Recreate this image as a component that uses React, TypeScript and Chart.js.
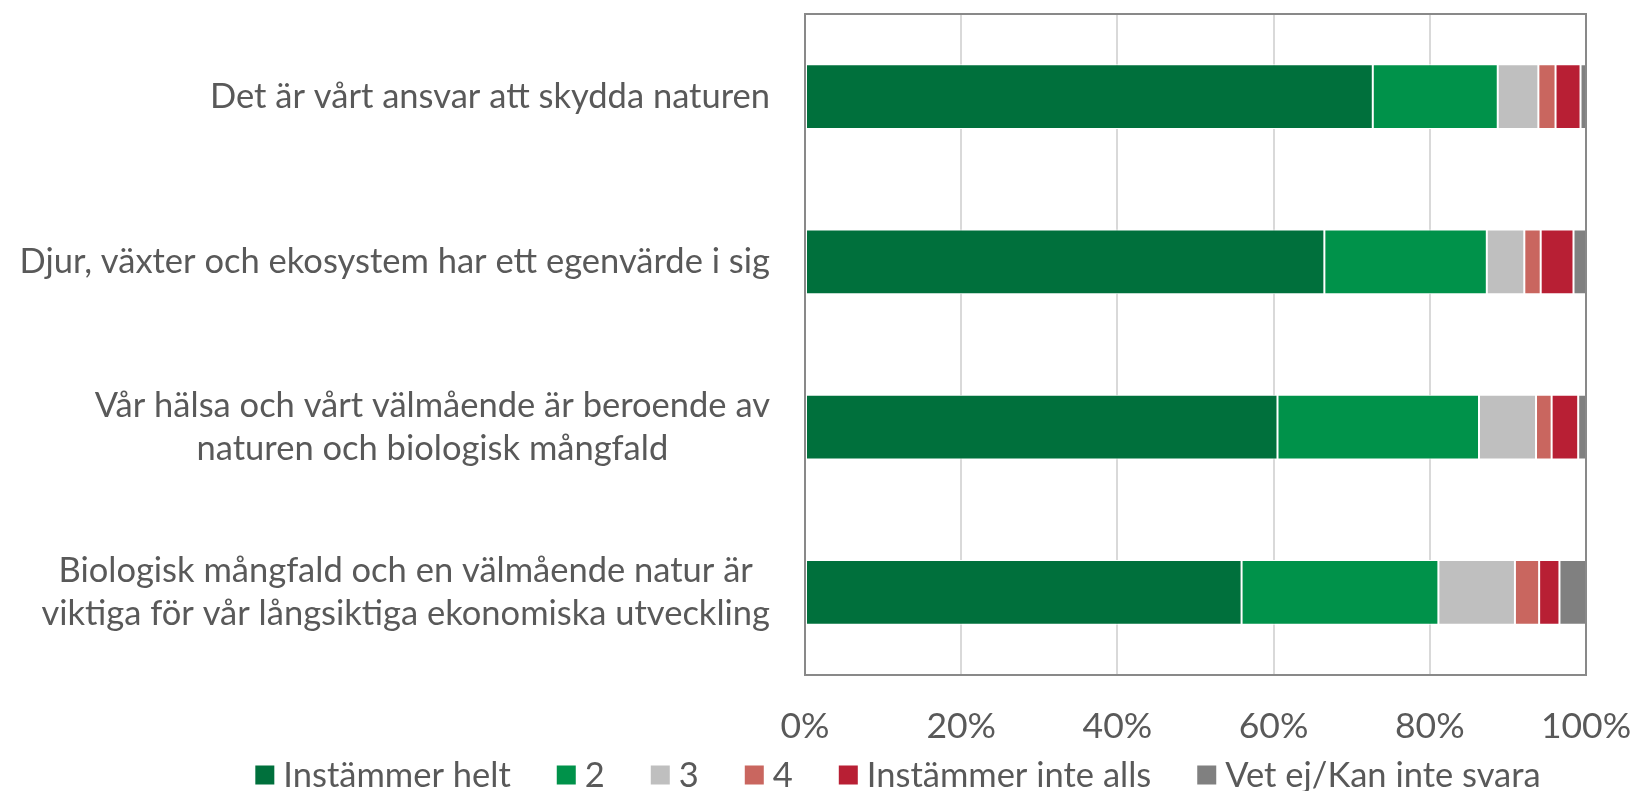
import React, { useEffect, useRef } from "react";
import { Chart, registerables } from "chart.js";

Chart.register(...registerables);

// ---- Data ----
const categories: string[][] = [
  ["Det är vårt ansvar att skydda naturen"],
  ["Djur, växter och ekosystem har ett egenvärde i sig"],
  ["Vår hälsa och vårt välmående är beroende av", "naturen och biologisk mångfald"],
  ["Biologisk mångfald och en välmående natur är", "viktiga för vår långsiktiga ekonomiska utveckling"],
];
const seriesNames = ["Instämmer helt", "2", "3", "4", "Instämmer inte alls", "Vet ej/Kan inte svara"];
const seriesColors = ["#00703C", "#00924A", "#BFBFBF", "#C9665F", "#B81F34", "#808080"];

const instammerHelt = [72.7, 66.5, 60.5, 55.9];
const svar2 = [16.0, 20.8, 25.8, 25.2];
const svar3 = [5.2, 4.8, 7.3, 9.8];
const svar4 = [2.2, 2.1, 2.0, 3.1];
const instammerInteAlls = [3.2, 4.2, 3.4, 2.6];
const vetEj = [0.7, 1.6, 1.0, 3.4];

const xTickValues = [0, 20, 40, 60, 80, 100];

const seriesValues = [instammerHelt, svar2, svar3, svar4, instammerInteAlls, vetEj];

// ---- Styles ----
const FONT = "Lato";
const FONT_SIZE = 34.5;
const TICK_FONT_SIZE = 35.5;
const TEXT_COLOR = "#595959";
const BORDER_COLOR = "#898989";
const GRID_COLOR = "#D9D9D9";

const frameBorderPlugin = {
  id: "frameBorder",
  afterDatasetsDraw(chart: any) {
    const { ctx, chartArea } = chart;
    ctx.save();
    ctx.strokeStyle = BORDER_COLOR;
    ctx.lineWidth = 2;
    ctx.strokeRect(chartArea.left, chartArea.top, chartArea.right - chartArea.left, chartArea.bottom - chartArea.top);
    ctx.restore();
  },
};

const categoryLabelPlugin = {
  id: "categoryLabels",
  afterDraw(chart: any) {
    const { ctx, chartArea } = chart;
    const yScale = chart.scales.y;
    const rightEdge = chartArea.left - 35;
    const lineH = 43;
    ctx.save();
    ctx.font = `${FONT_SIZE}px ${FONT}`;
    ctx.fillStyle = TEXT_COLOR;
    ctx.textBaseline = "middle";
    ctx.textAlign = "center";
    categories.forEach((lines, i) => {
      const yc = yScale.getPixelForTick(i);
      const widest = Math.max(...lines.map((l) => ctx.measureText(l).width));
      const cx = rightEdge - widest / 2;
      const y0 = yc - ((lines.length - 1) * lineH) / 2;
      lines.forEach((l, j) => ctx.fillText(l, cx, y0 + j * lineH));
    });
    ctx.restore();
  },
};

const legendPlugin = {
  id: "customLegend",
  afterDraw(chart: any) {
    const { ctx } = chart;
    const box = 19;
    const textGap = 9;
    const itemGap = 46;
    const centerX = 898;
    const cy = 775;
    ctx.save();
    ctx.font = `${FONT_SIZE}px ${FONT}`;
    ctx.textBaseline = "middle";
    ctx.textAlign = "left";
    const widths = seriesNames.map((n) => box + textGap + ctx.measureText(n).width);
    const total = widths.reduce((a, b) => a + b, 0) + itemGap * (widths.length - 1);
    let x = centerX - total / 2;
    seriesNames.forEach((n, i) => {
      ctx.fillStyle = seriesColors[i];
      ctx.fillRect(x, cy - box / 2, box, box);
      ctx.fillStyle = TEXT_COLOR;
      ctx.fillText(n, x + box + textGap, cy + 1);
      x += widths[i] + itemGap;
    });
    ctx.restore();
  },
};

export default function App() {
  const canvasRef = useRef<HTMLCanvasElement | null>(null);

  useEffect(() => {
    if (!canvasRef.current) return;
    const chart = new Chart(canvasRef.current, {
      type: "bar",
      data: {
        labels: categories.map((c) => c.join(" ")),
        datasets: seriesNames.map((name, i) => ({
          label: name,
          data: seriesValues[i],
          backgroundColor: seriesColors[i],
          borderColor: "#FFFFFF",
          borderWidth: 1,
          borderSkipped: false,
          barPercentage: 0.393,
          categoryPercentage: 1,
        })),
      },
      options: {
        indexAxis: "y",
        animation: false,
        responsive: true,
        maintainAspectRatio: false,
        layout: { padding: { top: 14, right: 45, left: 0, bottom: 46 } },
        plugins: {
          legend: { display: false },
          tooltip: { enabled: false },
        },
        scales: {
          x: {
            stacked: true,
            min: 0,
            max: 100,
            afterBuildTicks: (scale: any) => {
              scale.ticks = xTickValues.map((v) => ({ value: v }));
            },
            afterFit: (scale: any) => {
              scale.height = 70;
              scale.paddingLeft = 0;
              scale.paddingRight = 0;
            },
            ticks: {
              padding: 30,
              color: TEXT_COLOR,
              font: { family: FONT, size: TICK_FONT_SIZE },
              callback: (v: any) => `${v}%`,
              maxRotation: 0,
            },
            grid: { color: GRID_COLOR, lineWidth: 2, drawTicks: false },
            border: { display: false },
          },
          y: {
            stacked: true,
            afterFit: (scale: any) => {
              scale.width = 805;
              scale.paddingTop = 0;
              scale.paddingBottom = 0;
            },
            ticks: { display: false },
            grid: { display: false, drawTicks: false },
            border: { display: false },
          },
        },
      },
      plugins: [frameBorderPlugin, categoryLabelPlugin, legendPlugin],
    });
    return () => chart.destroy();
  }, []);

  return (
    <div style={{ position: "fixed", left: 0, top: 0, width: 1631, height: 791, background: "#FFFFFF" }}>
      <canvas ref={canvasRef} />
    </div>
  );
}
